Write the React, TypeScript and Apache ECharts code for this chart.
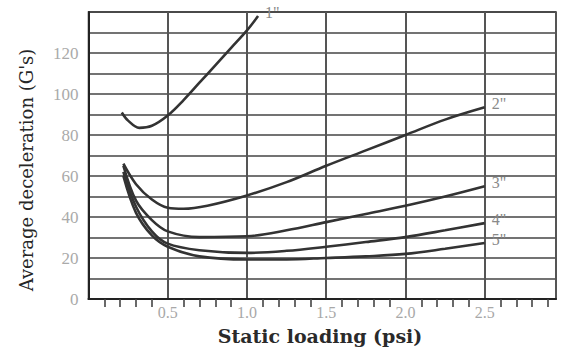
import React, { useEffect, useRef } from "react";
import * as echarts from "echarts";

const seriesNames = ['1"', '2"', '3"', '4"', '5"'];

const curve1: [number, number][] = [
  [0.21, 91], [0.25, 87], [0.32, 83.5], [0.4, 84.5], [0.5, 89.5], [0.6, 97],
  [0.7, 105.5], [0.8, 114], [0.9, 122.5], [1.0, 131], [1.07, 138],
];
const curve2: [number, number][] = [
  [0.22, 66], [0.3, 56], [0.4, 48.5], [0.5, 44.5], [0.6, 44], [0.75, 45.5],
  [1.0, 50.5], [1.25, 57], [1.5, 65], [1.75, 72.5], [2.0, 80], [2.25, 87.5], [2.5, 93.5],
];
const curve3: [number, number][] = [
  [0.22, 65], [0.3, 48], [0.4, 38.5], [0.5, 33], [0.7, 30.2], [1.0, 30.6],
  [1.25, 33.5], [1.5, 37.5], [1.75, 41.5], [2.0, 45.5], [2.25, 50], [2.5, 55],
];
const curve4: [number, number][] = [
  [0.22, 62], [0.3, 45], [0.4, 33], [0.5, 27], [0.7, 23.8], [1.0, 22.5],
  [1.25, 23.5], [1.5, 25.5], [1.75, 27.8], [2.0, 30.2], [2.25, 33.5], [2.5, 37],
];
const curve5: [number, number][] = [
  [0.22, 60], [0.3, 42], [0.4, 31], [0.5, 25.5], [0.7, 20.8], [1.0, 19.3],
  [1.25, 19.3], [1.5, 20], [1.75, 20.8], [2.0, 22], [2.25, 24.5], [2.5, 27.3],
];
const curves = [curve1, curve2, curve3, curve4, curve5];

const yTickLabels = [0, 20, 40, 60, 80, 100, 120];
const xTickLabels = [0.5, 1.0, 1.5, 2.0, 2.5];

const SERIF = '"DejaVu Serif", "Liberation Serif", serif';
const SERIF2 = '"Liberation Serif", "DejaVu Serif", serif';

export default function App() {
  const ref = useRef<HTMLDivElement>(null);
  useEffect(() => {
    if (!ref.current) return;
    const chart = echarts.init(ref.current, undefined, { renderer: "svg" });
    chart.setOption({
      animation: false,
      backgroundColor: "#ffffff",
      grid: {
        left: 88.5, right: 10, top: 12, bottom: 50,
        show: true, borderColor: "#2a2a2a", borderWidth: 1.5,
      },
      xAxis: {
        type: "value", min: 0, max: 2.95, interval: 0.5,
        axisLine: { show: true, lineStyle: { color: "#222", width: 2 } },
        axisTick: { show: false },
        minorTick: { show: true, splitNumber: 5, length: 8, lineStyle: { color: "#444", width: 1.6 } },
        splitLine: { show: true, lineStyle: { color: "#555", width: 2 } },
        axisLabel: {
          margin: 5, color: "#a8a8a8", fontFamily: SERIF2, fontSize: 16,
          formatter: (v: number) => (xTickLabels.some((t) => Math.abs(t - v) < 1e-6) ? v.toFixed(1) : ""),
        },
      },
      yAxis: {
        type: "value", min: 0, max: 140, interval: 10,
        axisLine: { show: true, lineStyle: { color: "#222", width: 2 } },
        axisTick: { show: false },
        splitLine: { show: true, lineStyle: { color: "#444", width: 1.5 } },
        axisLabel: {
          margin: 10, color: "#aaaaaa", fontFamily: SERIF2, fontSize: 17,
          formatter: (v: number) => (yTickLabels.includes(v) ? String(v) : ""),
        },
      },
      graphic: [
        {
          type: "text", x: 320, y: 336,
          style: {
            text: "Static loading (psi)", font: `bold 19px ${SERIF}`, fill: "#2a2a2a",
            align: "center", verticalAlign: "middle",
          },
        },
        {
          type: "text", x: 26, y: 170, rotation: Math.PI / 2,
          style: {
            text: "Average deceleration (G's)", font: `18px ${SERIF}`, fill: "#262626",
            align: "center", verticalAlign: "middle",
          },
        },
      ],
      series: curves.map((data, i) => ({
        type: "line",
        name: seriesNames[i],
        data,
        smooth: 0.35,
        showSymbol: false,
        lineStyle: { color: "#333", width: 2.6 },
        endLabel: {
          show: true, formatter: seriesNames[i], distance: 7, offset: [0, -4],
          color: "#8a8a8a", fontFamily: SERIF2, fontSize: 16,
        },
      })),
    });
    return () => chart.dispose();
  }, []);
  return <div ref={ref} style={{ position: "fixed", left: 0, top: 0, width: 566, height: 349 }} />;
}
